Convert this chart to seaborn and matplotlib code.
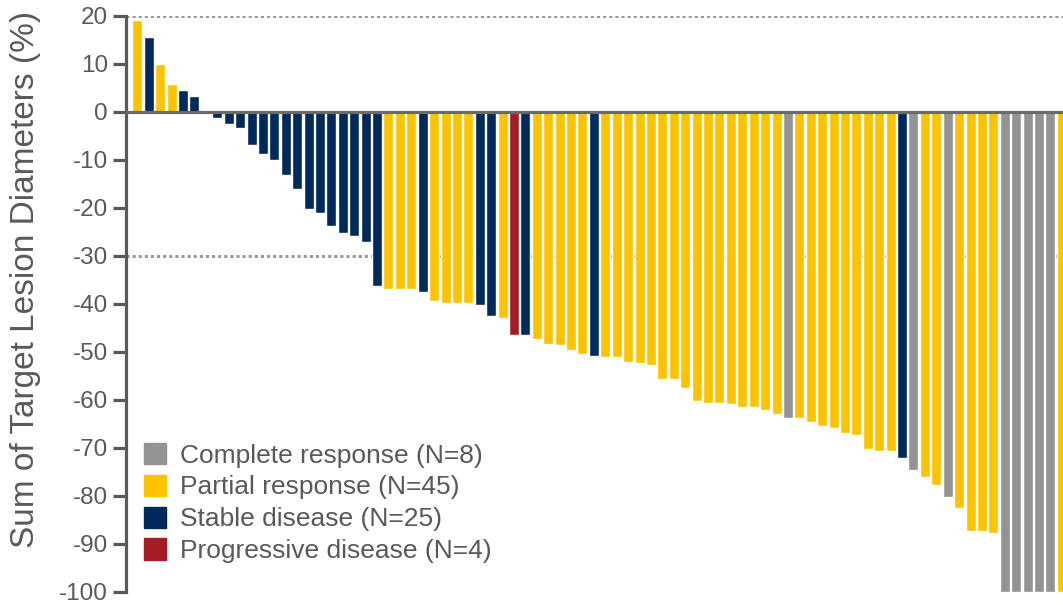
import matplotlib
matplotlib.use("Agg")
import matplotlib.pyplot as plt
from matplotlib.patches import Patch
import seaborn as sns
import pandas as pd

# best % change in sum of target lesion diameters, one bar per patient
change = [19.2, 15.7, 10.0, 5.9, 4.6, 3.3, 0.0,
          -1.2, -2.5, -3.3, -6.8, -8.7, -10.0, -13.1, -16.0, -20.2, -21.1,
          -23.8, -25.2, -25.9, -27.1, -36.3, -36.8, -36.8, -36.8, -37.6,
          -39.3, -39.7, -39.7, -39.7, -40.3, -42.6, -43.0, -46.4, -46.4,
          -47.2, -48.3, -48.5, -49.5, -50.4, -50.8, -51.0, -51.0, -52.1,
          -52.3, -52.7, -55.6, -55.6, -57.5, -60.2, -60.6, -60.6, -60.8,
          -61.5, -61.5, -62.0, -62.9, -63.7, -63.7, -64.6, -65.4, -65.8,
          -66.9, -67.3, -70.2, -70.6, -70.6, -72.1, -74.6, -76.1, -77.8,
          -80.3, -82.4, -87.2, -87.2, -87.8, -100, -100, -100, -100, -100,
          -100]
response = ["PR", "SD", "PR", "PR", "SD", "SD", "SD",
            "SD", "SD", "SD", "SD", "SD", "SD", "SD", "SD", "SD", "SD",
            "SD", "SD", "SD", "SD", "SD", "PR", "PR", "PR", "SD",
            "PR", "PR", "PR", "PR", "SD", "SD", "PR", "PD", "SD",
            "PR", "PR", "PR", "PR", "PR", "SD", "PR", "PR", "PR",
            "PR", "PR", "PR", "PR", "PR", "PR", "PR", "PR", "PR",
            "PR", "PR", "PR", "PR", "CR", "PR", "PR", "PR", "PR",
            "PR", "PR", "PR", "PR", "PR", "SD", "CR", "PR", "PR",
            "CR", "PR", "PR", "PR", "PR", "CR", "CR", "CR", "CR", "CR",
            "PR"]

groups = ["CR", "PR", "SD", "PD"]
group_labels = ["Complete response (N=8)", "Partial response (N=45)",
                "Stable disease (N=25)", "Progressive disease (N=4)"]
colors = {"CR": "#939393", "PR": "#FDC300", "SD": "#002A5C", "PD": "#A51C24"}

df = pd.DataFrame({"patient": range(len(change)), "change": change,
                   "response": response})

sns.set_theme(style="white")
plt.rcParams["font.family"] = ["Liberation Sans", "DejaVu Sans"]
plt.rcParams["axes.unicode_minus"] = False

text_col = "#595959"
fig = plt.figure(figsize=(10.63, 6.05), dpi=100)
ax = fig.add_axes([0.1185, 0.0215, 0.8815, 0.9521])

ax.axhline(20, color="#999999", lw=2.2, ls=(0, (1, 1)), zorder=0)
ax.axhline(-30, color="#999999", lw=2.2, ls=(0, (1, 1)), zorder=0)

sns.barplot(data=df, x="patient", y="change", hue="response",
            palette=colors, dodge=False, width=0.876, saturation=1,
            legend=False, ax=ax, zorder=2)

ax.axhline(0, color="#6a6a6a", lw=2.3, zorder=3)

ax.set_xlim(-1.0, 81.1)
ax.set_ylim(-100, 20)
ax.set_yticks(range(-100, 21, 10))
ax.set_xticks([])
ax.set_xlabel("")
ax.set_ylabel("")
for s in ["top", "right", "bottom"]:
    ax.spines[s].set_visible(False)
ax.spines["left"].set_color(text_col)
ax.spines["left"].set_linewidth(2.3)
ax.tick_params(axis="y", left=True, length=9.5, width=2.3, color=text_col,
               pad=3.5, labelsize=17.5, labelcolor=text_col)

fig.text(26 / 1063, 1 - 279 / 605, "Sum of Target Lesion Diameters (%)",
         rotation=90, ha="center", va="center", fontsize=24, color=text_col)

handles = [Patch(color=colors[g]) for g in groups]
ax.legend(handles, group_labels, loc="lower left",
          bbox_to_anchor=(0.019, 0.05), frameon=False, fontsize=19,
          handlelength=0.86, handleheight=0.86, handletextpad=0.5,
          labelspacing=0.27, borderaxespad=0, borderpad=0,
          labelcolor=text_col)

fig.savefig("out.png", dpi=100)
